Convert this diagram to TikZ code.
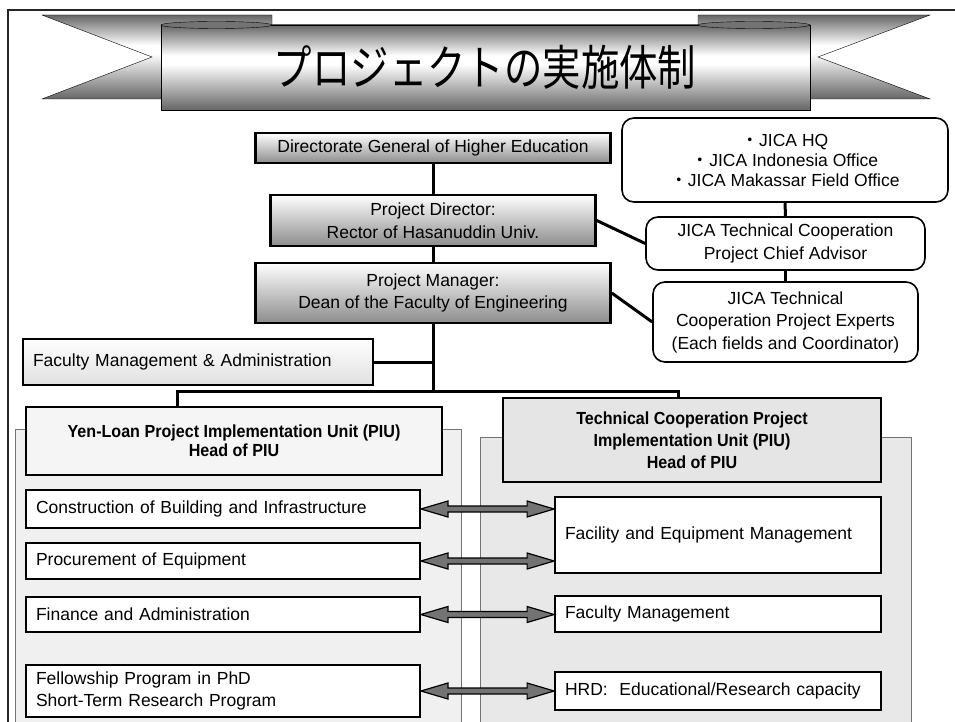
\documentclass[tikz,border=0pt]{standalone}
\usepackage{fontspec}
\setmainfont{Liberation Sans}[BoldFeatures={FakeStretch=0.92}]
\newfontfamily\jpfont{Noto Sans CJK JP}
\newfontfamily\titlefont[FakeStretch=0.8]{Noto Sans CJK JP}
\usetikzlibrary{calc, positioning}

\pgfdeclareverticalshading{ribbon}{100bp}{color(0bp)=(black!60); color(25bp)=(black!60); color(52bp)=(white); color(57bp)=(white); color(75bp)=(black!60); color(100bp)=(black!60)}

\newcommand\twoway[2]{%
  \filldraw[twoway] (#1.east) -- ++(27,-8) -- ++(0,5) -- ($(#2.west |- #1.east)+(-27,-3)$) -- ++(0,-5)
    -- (#2.west |- #1.east) -- ++(-27,8) -- ++(0,-5) -- ($(#1.east)+(27,3)$) -- ++(0,5) -- cycle;}

\begin{document}
\begin{tikzpicture}[x=1pt, y=-1pt, font=\fontsize{17.5}{22.5}\selectfont,
    frameline/.style={draw=black!85, line width=2.5pt},
    topbox/.style={draw, line width=2.5pt, top color=white, bottom color=black!45, align=center},
    jicabox/.style={draw, line width=1.6pt, rounded corners=12pt, fill=white, align=center},
    unitbox/.style={draw, line width=2pt, align=center, font=\fontsize{17.5}{19}\selectfont\bfseries},
    taskbox/.style={draw, line width=1.8pt, fill=white, align=left, inner xsep=10pt},
    panel/.style={draw=black!55, line width=1pt},
    link/.style={line width=3pt},
    twoway/.style={draw, line width=1.2pt, fill=black!55}]
    \useasboundingbox (0,0) rectangle (955,722);

    \draw[frameline] (8,722) -- (8,10) -- (955,10);

    \draw[shading=ribbon] (42,15) -- (272,15) -- (272,99) -- (42,99) -- (152,57) -- cycle;
    \draw[shading=ribbon] (930,15) -- (698,15) -- (698,99) -- (930,99) -- (818,57) -- cycle;
    \draw[shading=ribbon] (161,25) rectangle (810,110);
    \draw[fill=black!55] (216.5,25) ellipse [x radius=55.5pt, y radius=3.5pt];
    \draw[fill=black!55] (754,25) ellipse [x radius=56pt, y radius=3.5pt];
    \node[font=\titlefont\fontsize{48}{48}\selectfont] (title) at (485,67) {プロジェクトの実施体制};

    \filldraw[panel, fill=black!6] (15,722) -- (15,429) -- (461,429) -- (461,722);
    \filldraw[panel, fill=black!9] (480,722) -- (480,437) -- (911,437) -- (911,722);

    \node[topbox, minimum width=355, minimum height=30] (dghe) at (433,148) {Directorate General of Higher Education};
    \node[topbox, minimum width=325, minimum height=51] (pd) at (433,220.5) {Project Director:\\Rector of Hasanuddin Univ.};
    \node[topbox, minimum width=355, minimum height=60] (pm) at (433,293) {Project Manager:\\Dean of the Faculty of Engineering};

    \node[jicabox, minimum width=326, minimum height=84, font=\fontsize{17.5}{20}\selectfont] (hq) at (785,160) {{\jpfont ・}JICA HQ\\{\jpfont ・}JICA Indonesia Office\\{\jpfont ・}JICA Makassar Field Office};
    \node[jicabox, minimum width=279, minimum height=53] (ca) at (785.5,243.5) {JICA Technical Cooperation\\Project Chief Advisor};
    \node[jicabox, minimum width=265, minimum height=80] (ex) at (785.5,322) {JICA Technical\\Cooperation Project Experts\\(Each fields and Coordinator)};

    \node[taskbox, top color=white, bottom color=black!12, text width=330, minimum height=46] (fma) at (198,362) {Faculty Management \& Administration};

    \node[unitbox, fill=black!4, minimum width=416, minimum height=68] (yl) at (234,441) {Yen-Loan Project Implementation Unit (PIU)\\Head of PIU};
    \node[unitbox, fill=black!10, minimum width=378, minimum height=84, font=\fontsize{17.5}{22}\selectfont\bfseries] (tc) at (692,440) {Technical Cooperation Project\\Implementation Unit (PIU)\\Head of PIU};

    \node[taskbox, text width=374, minimum height=38] (cons) at (223,509) {Construction of Building and Infrastructure};
    \node[taskbox, text width=374, minimum height=36] (proc) at (223,561) {Procurement of Equipment};
    \node[taskbox, text width=374, minimum height=35] (fin) at (223,614.5) {Finance and Administration};
    \node[taskbox, text width=374, minimum height=52] (fel) at (223,691) {Fellowship Program in PhD\\Short-Term Research Program};

    \node[taskbox, text width=306, minimum height=76] (fac) at (718,535) {Facility and Equipment Management};
    \node[taskbox, text width=306, minimum height=36] (fm) at (718,614) {Faculty Management};
    \node[taskbox, text width=306, minimum height=38] (hrd) at (718,691) {HRD:\ \ Educational/Research capacity};

    \coordinate (bus) at (433,391);
    \coordinate (ylDrop) at (177,391);
    \coordinate (tcDrop) at (678,391);

    \draw[link] (dghe.south) -- (pd.north);
    \draw[link] (pd.south) -- (pm.north);
    \draw[link] (pm.south) -- (bus);
    \draw[link] (fma.east) -- (fma.east -| bus);
    \draw[link] (ylDrop |- yl.north) -- (ylDrop) -- (tcDrop) -- (tcDrop |- tc.north);

    \draw[link] (pd.east) -- (ca.west);
    \draw[link] (pm.east) -- (ex.west);
    \draw[link] (hq.south) -- (ca.north);
    \draw[link] (ca.south) -- (ex.north);

    \twoway{cons}{fac}
    \twoway{proc}{fac}
    \twoway{fin}{fm}
    \twoway{fel}{hrd}
\end{tikzpicture}
\end{document}
